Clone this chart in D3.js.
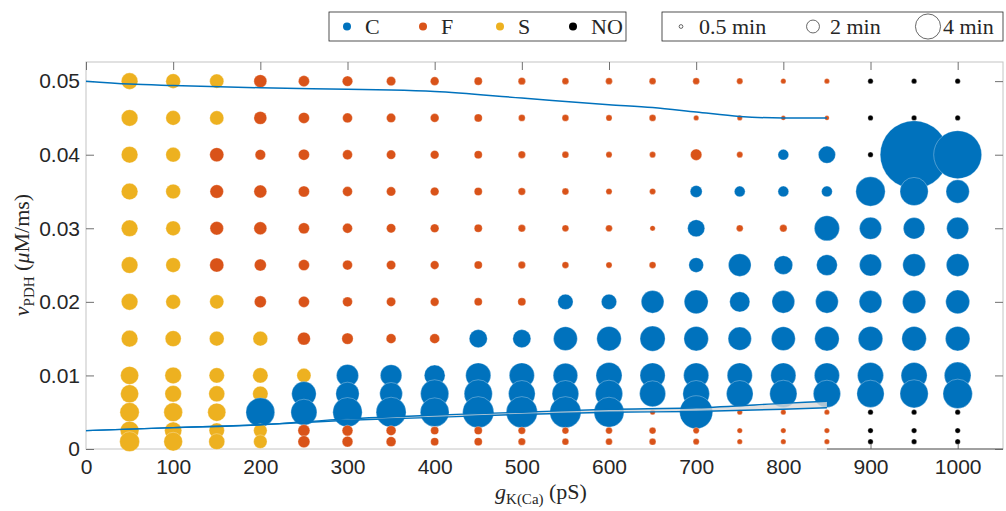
<!DOCTYPE html>
<html>
<head>
<meta charset="utf-8">
<script src="https://cdn.jsdelivr.net/npm/d3@7/dist/d3.min.js"></script>
<style>
  body { margin: 0; background: #fff; }
  .tick text { font-family: 'Liberation Sans', Arial, sans-serif; font-size: 21px; fill: #262626; }
  .lab { font-family: 'Liberation Serif', 'DejaVu Serif', serif; fill: #262626; }
</style>
</head>
<body>
<svg width="1006" height="511"></svg>
<script>
// grid columns (pS) and rows (uM/ms), rows listed top to bottom
var gK = [50, 100, 150, 200, 250, 300, 350, 400, 450, 500, 550, 600, 650, 700, 750, 800, 850, 900, 950, 1000];
var vPDH = [0.05, 0.045, 0.04, 0.035, 0.03, 0.025, 0.02, 0.015, 0.01, 0.0075, 0.005, 0.0025, 0.001];

// C = continuous, F = fast, S = slow, N = none
var regime = [
  'SSSFFFFFFFFFFFFFFNNN',
  'SSSFFFFFFFFFFFFFFNNN',
  'SSFFFFFFFFFFFFFCCNCC',
  'SSFFFFFFFFFFFCCCCCCC',
  'SSFFFFFFFFFFFCFFCCCC',
  'SSFFFFFFFFFFFCCCCCCC',
  'SSSFFFFFFFCCCCCCCCCC',
  'SSSSFFFFCCCCCCCCCCCC',
  'SSSSSCCCCCCCCCCCCCCC',
  'SSSSCCCCCCCCCCCCCCCC',
  'SSSCCCCCCCCCFCFFFNNN',
  'SSSSFFFFFFFFFFFFFNNN',
  'SSSSFFFFFFFFFFFFFNNN'
];

// burst duration (min)
var minutes = [
  [2.6, 2.3, 2.2, 2.0, 1.7, 1.6, 1.4, 1.3, 1.2, 1.1, 1.0, 1.0, 1.0, 1.0, 0.9, 0.75, 0.75, 0.75, 0.75, 0.75],
  [2.6, 2.3, 2.2, 2.0, 1.7, 1.5, 1.4, 1.3, 1.2, 1.0, 1.0, 0.9, 1.0, 0.75, 0.75, 0.65, 0.65, 0.75, 0.75, 0.75],
  [2.6, 2.3, 2.2, 1.6, 1.7, 1.5, 1.4, 1.3, 1.2, 1.1, 1.0, 0.9, 0.9, 1.75, 0.9, 1.65, 2.7, 0.75, 11.0, 7.75],
  [2.6, 2.3, 2.1, 2.0, 1.7, 1.5, 1.4, 1.3, 1.2, 1.1, 1.0, 0.9, 0.9, 1.85, 1.65, 1.65, 1.65, 4.7, 4.5, 3.7],
  [2.6, 2.3, 2.1, 2.0, 1.7, 1.5, 1.4, 1.3, 1.2, 1.1, 1.0, 1.0, 0.75, 2.7, 1.0, 1.1, 4.0, 3.5, 3.4, 3.5],
  [2.6, 2.3, 2.2, 1.85, 1.7, 1.5, 1.4, 1.3, 1.2, 1.1, 1.0, 0.9, 1.0, 2.3, 3.6, 2.95, 3.3, 3.5, 3.6, 3.6],
  [2.6, 2.3, 2.2, 1.85, 1.7, 1.5, 1.4, 1.3, 1.2, 1.2, 2.4, 2.4, 3.6, 3.8, 3.2, 3.6, 3.6, 3.6, 3.7, 3.8],
  [2.6, 2.5, 2.3, 2.3, 2.0, 1.75, 1.5, 1.5, 2.85, 2.85, 3.8, 3.9, 4.0, 3.9, 3.7, 3.8, 3.9, 3.9, 3.9, 3.9],
  [2.85, 2.6, 2.4, 2.4, 2.2, 3.5, 3.4, 3.3, 4.0, 4.0, 3.9, 4.15, 4.0, 4.0, 4.0, 4.0, 4.0, 4.15, 4.15, 4.25],
  [2.85, 2.6, 2.5, 2.4, 3.9, 3.7, 3.6, 4.5, 4.5, 4.25, 4.25, 4.35, 4.15, 4.25, 4.25, 4.35, 4.35, 4.35, 4.5, 4.7],
  [3.05, 2.95, 2.85, 4.6, 4.15, 4.7, 4.8, 4.6, 5.0, 5.0, 5.0, 4.8, 0.75, 5.3, 0.75, 0.75, 0.75, 0.75, 0.75, 0.75],
  [2.95, 2.7, 2.4, 2.1, 1.85, 1.65, 1.5, 1.2, 1.2, 1.1, 1.0, 1.0, 1.0, 0.9, 0.75, 0.75, 0.75, 0.75, 0.75, 0.75],
  [3.15, 2.95, 2.5, 2.1, 1.85, 1.65, 1.5, 1.2, 1.2, 1.1, 1.0, 1.0, 1.0, 0.9, 0.75, 0.75, 0.75, 0.75, 0.75, 0.75]
];

// boundary curves
var upperG = [0, 50, 100, 200, 300, 350, 400, 500, 600, 650, 700, 750, 800, 850];
var upperV = [0.05, 0.0496, 0.0494, 0.0491, 0.0489, 0.0488, 0.0486, 0.0477, 0.0468, 0.0464, 0.0458, 0.0452, 0.045, 0.045];
var lowerG = [0, 100, 200, 300, 400, 500, 600, 700, 800, 850];
var lowerTop = [0.0025, 0.0029, 0.0033, 0.0041, 0.0046, 0.005, 0.0054, 0.0056, 0.0062, 0.0065];
var lowerBot = [0.0025, 0.0029, 0.0033, 0.0039, 0.0043, 0.0047, 0.005, 0.0051, 0.0054, 0.0056];

var xTicks = [0, 100, 200, 300, 400, 500, 600, 700, 800, 900, 1000];
var yTicks = [0, 0.01, 0.02, 0.03, 0.04, 0.05];
var legendCats = ['C', 'F', 'S', 'NO'];
var legendMins = [0.5, 2, 4];

var colors = {C: '#0072BD', F: '#D95319', S: '#EDB120', N: '#000000', NO: '#000000'};

var svg = d3.select('svg'),
  margin = {top: 62, right: 3, bottom: 62, left: 86},
  width = +svg.attr('width') - margin.left - margin.right,
  height = +svg.attr('height') - margin.top - margin.bottom,
  g = svg.append('g').attr('transform', 'translate(' + margin.left + ',' + margin.top + ')');

var x = d3.scaleLinear().domain([0, 1052]).range([0, width]),
  y = d3.scaleLinear().domain([0, 0.0526]).range([height, 0]),
  r = d3.scaleLinear().domain([0, 4]).range([0.35, 12.55]);

// axes box
g.append('rect')
  .attr('width', width).attr('height', height)
  .attr('fill', 'none').attr('stroke', '#c4c4c4').attr('stroke-width', 1);

var xAx = g.append('g')
  .attr('transform', 'translate(0,' + height + ')')
  .call(d3.axisBottom(x).tickValues(xTicks).tickFormat(d3.format('d'))
    .tickSizeInner(-8).tickSizeOuter(0).tickPadding(10));
xAx.select('.domain').remove();
xAx.selectAll('.tick line').attr('stroke', '#707070').attr('opacity', d => (d > 850 ? 1 : 0));

var yAx = g.append('g')
  .call(d3.axisLeft(y).tickValues(yTicks).tickFormat(d => (d === 0 ? '0' : d3.format('.2f')(d)))
    .tickSizeInner(-8).tickSizeOuter(0).tickPadding(6));
yAx.select('.domain').remove();
yAx.selectAll('.tick line').attr('stroke', '#707070');

var topAx = g.append('g').call(d3.axisTop(x).tickValues(xTicks).tickSizeInner(-8).tickSizeOuter(0).tickFormat(''));
topAx.select('.domain').remove();
topAx.selectAll('.tick line').attr('stroke', '#707070');

var rAx = g.append('g').attr('transform', 'translate(' + width + ',0)')
  .call(d3.axisRight(y).tickValues(yTicks).tickSizeInner(-8).tickSizeOuter(0).tickFormat(''));
rAx.select('.domain').remove();
rAx.selectAll('.tick line').attr('stroke', '#707070');

g.append('line')
  .attr('x1', x(850)).attr('x2', width)
  .attr('y1', height).attr('y2', height)
  .attr('stroke', '#606060').attr('stroke-width', 1.2);

// dots
var points = [];
vPDH.forEach(function(v, i) {
  gK.forEach(function(k, j) {
    points.push({g: k, v: v, type: regime[i][j], t: minutes[i][j]});
  });
});

g.append('g').selectAll('circle')
  .data(points)
  .enter()
  .append('circle')
  .attr('cx', d => x(d.g))
  .attr('cy', d => y(d.v))
  .attr('r', d => r(d.t))
  .attr('fill', d => colors[d.type])
  .attr('stroke', '#fff')
  .attr('stroke-opacity', 0.5)
  .attr('stroke-width', 0.6);

// boundary curves
var line = d3.line().curve(d3.curveMonotoneX).x(d => x(d[0])).y(d => y(d[1]));
var area = d3.area().curve(d3.curveMonotoneX)
  .x(d => x(d[0])).y0(d => y(d[1])).y1(d => y(d[2]));

g.append('path')
  .datum(lowerG.map((k, i) => [k, lowerBot[i], lowerTop[i]]))
  .attr('d', area)
  .attr('fill', '#d9d9d9').attr('fill-opacity', 0.8);

[lowerTop, lowerBot].forEach(function(vals) {
  g.append('path')
    .datum(lowerG.map((k, i) => [k, vals[i]]))
    .attr('d', line)
    .attr('fill', 'none').attr('stroke', '#0072BD').attr('stroke-width', 1.4);
});

g.append('path')
  .datum(upperG.map((k, i) => [k, upperV[i]]))
  .attr('d', line)
  .attr('fill', 'none').attr('stroke', '#0072BD').attr('stroke-width', 1.5);

// axis labels
var xl = svg.append('text').attr('class', 'lab')
  .attr('x', 541).attr('y', 499).attr('text-anchor', 'middle').style('font-size', '22px');
xl.append('tspan').attr('font-style', 'italic').text('g');
xl.append('tspan').attr('dy', 5).style('font-size', '15px').text('K(Ca)');
xl.append('tspan').attr('dy', -5).text(' (pS)');

var yl = svg.append('text').attr('class', 'lab')
  .attr('transform', 'translate(29,255) rotate(-90)')
  .attr('text-anchor', 'middle').style('font-size', '22px');
yl.append('tspan').attr('font-style', 'italic').text('v');
yl.append('tspan').attr('dy', 5).style('font-size', '15px').text('PDH');
yl.append('tspan').attr('dy', -5).text(' (');
yl.append('tspan').attr('font-style', 'italic').text('\u03bc');
yl.append('tspan').text('M/ms)');

// legends
var leg1 = svg.append('g').attr('transform', 'translate(329,12)');
leg1.append('rect').attr('width', 297).attr('height', 29)
  .attr('fill', '#fff').attr('stroke', '#262626').attr('stroke-width', 0.8);
var catX = [18, 94, 171, 244];
legendCats.forEach(function(c, i) {
  leg1.append('circle').attr('cx', catX[i]).attr('cy', 14.5).attr('r', 4).attr('fill', colors[c]);
  leg1.append('text').attr('class', 'lab').attr('x', catX[i] + 18).attr('y', 22)
    .style('font-size', '22px').text(c);
});

var leg2 = svg.append('g').attr('transform', 'translate(662,12)');
leg2.append('rect').attr('width', 341).attr('height', 29)
  .attr('fill', '#fff').attr('stroke', '#262626').attr('stroke-width', 0.8);
var minX = [19, 151, 266];
var minTextX = [37, 168, 281];
legendMins.forEach(function(m, i) {
  leg2.append('circle').attr('cx', minX[i]).attr('cy', 14.5).attr('r', r(m))
    .attr('fill', 'none').attr('stroke', '#262626').attr('stroke-width', 0.7);
  leg2.append('text').attr('class', 'lab').attr('x', minTextX[i]).attr('y', 22)
    .style('font-size', '22px').text(m + ' min');
});
</script>
</body>
</html>
